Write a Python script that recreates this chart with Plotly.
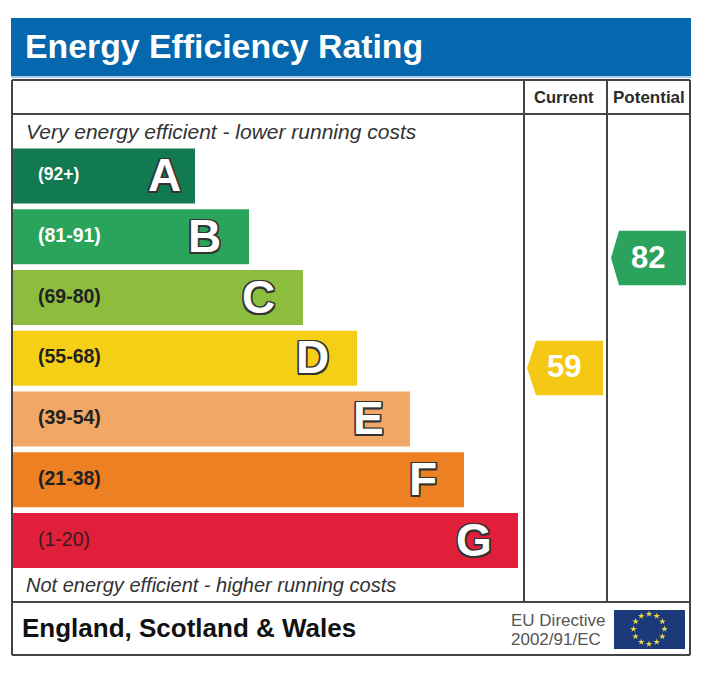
import math
import plotly.graph_objects as go

W = 712
H = 677

bands = ["A", "B", "C", "D", "E", "F", "G"]
band_ranges = ["(92+)", "(81-91)", "(69-80)", "(55-68)", "(39-54)", "(21-38)", "(1-20)"]
bar_lengths = [183, 237, 291, 345, 398, 452, 506]
bar_colors = ["#127A50", "#2AA45A", "#8CBD3F", "#F5CF15", "#F2A766", "#ED8023", "#E21F3B"]
range_colors = ["#FFFFFF", "#FFFFFF", "#222222", "#222222", "#222222", "#222222", "#3A1A20"]
letter_x = [164, 204, 258, 312, 368, 423, 474]

current_rating = 59
potential_rating = 82
current_color = "#F5C814"
potential_color = "#2CA35C"

FRAME = "#444444"
OUTLINE = ", ".join(f"{a}px {b}px 0 #333333" for a in (-1.5, 0, 1.5) for b in (-1.5, 0, 1.5))
FONT = "Liberation Sans"


def yp(py):
    return 1 - py / H


def rating_row(r):
    # ratings run down the same scale as the bands
    return (99.15 - r) * 0.0787


def arrow(x_tip, x_notch, x_right, rating, color):
    c = rating_row(rating)
    h = 0.45
    return go.Scatter(x=[x_tip, x_notch, x_right, x_right, x_notch, x_tip],
                      y=[c, c - h, c - h, c + h, c + h, c],
                      mode="lines", fill="toself", fillcolor=color,
                      line=dict(width=0), hoverinfo="skip", showlegend=False)


fig = go.Figure()

fig.add_trace(go.Bar(x=bar_lengths, y=list(range(7)), base=12, orientation="h",
                     width=0.905, marker=dict(color=bar_colors, line=dict(width=0)),
                     hoverinfo="skip", showlegend=False))

fig.add_trace(arrow(527, 536, 603, current_rating, current_color))
fig.add_trace(arrow(611, 619, 686, potential_rating, potential_color))

# EU flag stars
star_x = [649 + 15.5 * math.sin(i * math.pi / 6) for i in range(12)]
star_y = [629 - 15 * math.cos(i * math.pi / 6) for i in range(12)]
fig.add_trace(go.Scatter(x=star_x, y=star_y, yaxis="y2", mode="markers",
                         marker=dict(symbol="star", size=5, color="#E8D84A"),
                         hoverinfo="skip", showlegend=False))

shapes = []


def rect(x0, py0, x1, py1, color):
    shapes.append(dict(type="rect", xref="x", yref="paper", x0=x0, x1=x1, y0=yp(py0), y1=yp(py1),
                       fillcolor=color, line=dict(width=0), layer="below"))


def line(x0, py0, x1, py1):
    shapes.append(dict(type="line", xref="x", yref="paper", x0=x0, x1=x1, y0=yp(py0), y1=yp(py1),
                       line=dict(color=FRAME, width=2), layer="above"))


rect(11, 18, 691, 76, "#0568AE")
rect(11, 76, 691, 78, "#A9CFE8")
rect(614, 610, 685, 649, "#1C3A7A")
line(12, 80, 690, 80)
line(12, 114, 690, 114)
line(12, 602, 690, 602)
line(12, 655, 690, 655)
line(12, 80, 12, 655)
line(690, 80, 690, 655)
line(524, 80, 524, 602)
line(607, 80, 607, 602)

annotations = []


def label(text, x, py, size, color="#222222", anchor="left", bold=False, italic=False, shadow=None):
    font = dict(family=FONT, size=size, color=color,
                weight="bold" if bold else "normal",
                style="italic" if italic else "normal")
    if shadow:
        font["shadow"] = shadow
    annotations.append(dict(text=text, x=x, y=yp(py), xref="x", yref="paper",
                            xanchor=anchor, yanchor="middle", showarrow=False,
                            borderpad=0, font=font))


label("Energy Efficiency Rating", 24, 46, 33.8, "#FFFFFF", bold=True)
label("Current", 564, 97, 16.5, "#2A2A2A", "center", bold=True)
label("Potential", 649, 97, 17, "#2A2A2A", "center", bold=True)
label("Very energy efficient - lower running costs", 25, 131, 21, "#333333", italic=True)
label("Not energy efficient - higher running costs", 25, 585, 20, "#333333", italic=True)
label("England, Scotland &amp; Wales", 21, 628, 26, "#111111", bold=True)
label("EU Directive", 510, 620, 17, "#555555")
label("2002/91/EC", 510, 639, 17, "#555555")
label(str(current_rating), 564, 367, 31, "#FFFFFF", "center", bold=True)
label(str(potential_rating), 648, 257, 31, "#FFFFFF", "center", bold=True)

for i, b in enumerate(bands):
    py = 176 + i * 60.75
    label(band_ranges[i], 37, py - 2, 17.5 if i == 0 else 19.5, range_colors[i], bold=i < 6)
    label(b, letter_x[i], py - 1, 46, "#FFFFFF", "center", bold=True, shadow=OUTLINE)

fig.update_layout(
    width=W, height=H,
    margin=dict(l=0, r=0, t=0, b=0),
    paper_bgcolor="white", plot_bgcolor="rgba(0,0,0,0)",
    xaxis=dict(range=[0, W], visible=False, fixedrange=True),
    yaxis=dict(range=[6.5, -0.5], domain=[yp(570.8), yp(145.7)], visible=False, fixedrange=True),
    yaxis2=dict(range=[H, 0], domain=[0, 1], visible=False, anchor="x", fixedrange=True),
    shapes=shapes,
    annotations=annotations,
    showlegend=False,
)

fig.write_html("out.html", config=dict(displayModeBar=False),
               post_script="document.body.style.margin='0';document.body.style.overflow='hidden';")
